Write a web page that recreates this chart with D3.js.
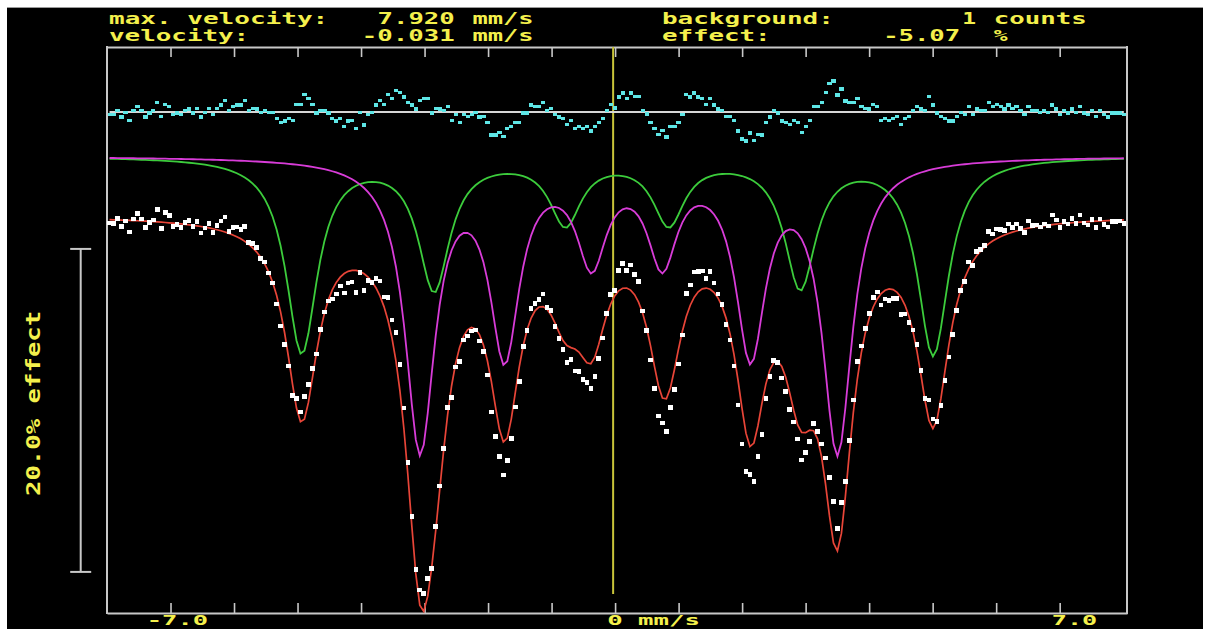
<!DOCTYPE html>
<html><head><meta charset="utf-8">
<script src="https://cdn.jsdelivr.net/npm/d3@7"></script>
<style>
html,body{margin:0;background:#fff;overflow:hidden}
text{font-family:'DejaVu Sans Mono',monospace;font-weight:bold}
</style>
</head><body><svg id="chart" width="1213" height="629"></svg>
<script>
// Measured relative transmission per channel (%)
const transmission = [
  99.50,99.49,99.80,99.28,99.62,98.95,99.76,100.08,99.74,99.21,99.54,99.70,100.34,99.17,100.14,99.96,
  99.28,99.41,99.23,99.53,99.66,99.30,99.60,98.88,99.19,99.47,98.93,99.36,99.62,99.88,98.97,99.21,
  99.25,99.12,99.30,98.30,98.24,97.97,97.32,97.09,96.42,95.78,94.48,93.12,92.00,90.64,88.81,88.65,
  87.81,88.78,89.50,90.51,91.39,92.92,94.00,94.67,94.81,95.10,95.60,95.17,95.79,95.86,95.19,96.44,
  95.31,95.93,95.81,96.08,95.91,94.93,94.91,93.49,92.73,90.73,88.04,84.69,81.33,78.04,76.78,76.55,
  77.50,78.12,80.72,83.23,85.55,88.08,88.71,90.58,90.92,92.26,92.50,92.82,92.89,92.20,91.56,90.10,
  87.80,86.28,85.04,83.91,84.81,86.15,88.10,89.70,91.84,92.85,94.22,94.52,94.75,95.10,94.27,94.08,
  93.09,92.34,91.68,90.87,91.07,90.33,90.30,89.80,89.64,89.24,89.99,91.12,92.39,93.91,95.09,95.32,
  96.56,97.01,96.58,96.90,96.33,95.87,94.05,92.86,91.03,89.25,87.55,87.12,86.58,88.08,89.20,90.77,
  92.56,95.14,95.67,96.46,96.50,96.53,96.08,96.50,95.80,95.12,94.45,93.23,92.25,90.64,88.23,85.83,
  84.12,83.95,83.51,85.06,86.42,88.65,90.01,90.98,90.88,89.90,89.07,87.94,87.19,86.12,84.83,85.31,
  85.96,87.08,86.58,85.81,84.96,83.73,82.26,80.59,82.18,83.50,86.04,88.54,90.94,91.90,92.97,93.89,
  94.91,95.24,94.42,94.79,94.70,94.83,94.82,93.85,93.86,93.33,92.89,92.00,90.36,88.65,88.54,87.37,
  87.22,88.22,89.74,91.20,92.61,94.09,95.33,95.88,97.10,96.89,97.74,97.88,98.12,98.98,98.82,99.13,
  99.09,99.03,99.45,99.21,99.45,99.18,98.91,99.62,99.34,99.38,99.25,99.45,99.32,100.00,99.70,99.24,
  99.59,99.44,99.79,99.48,100.00,99.51,99.37,99.71,99.23,99.74,99.42,99.26,99.60,99.61,99.62,99.47
];
// Velocity of the first and last channel (mm/s)
const channelVelocityRange = [-7.96, 8.01];

// Sextet 1 (green): line positions (mm/s), depths (%), line width (mm/s)
const sextet1Positions = [-4.934, -2.850, -0.783, 0.844, 2.915, 5.008];
const sextet1Depths    = [12.07, 8.09, 4.01, 4.01, 7.97, 12.20];
const sextet1Width     = 0.598;
// Sextet 2 (magenta)
const sextet2Positions = [-3.071, -1.739, -0.370, 0.743, 2.132, 3.501];
const sextet2Depths    = [17.89, 11.76, 6.00, 6.00, 11.76, 17.95];
const sextet2Width     = 0.567;

// Axis ticks and labels (mm/s)
const axisTicks = [-7, -6, -5, -4, -3, -2, -1, 0, 1, 2, 3, 4, 5, 6, 7];
const axisLabelValues = [-7, 0, 7];
const axisLabelTexts  = ["-7.0", "0 mm/s", "7.0"];

// Header read-out
const headerLeft  = [["max. velocity:", "7.920", "mm/s"], ["velocity:", "-0.031", "mm/s"]];
const headerRight = [["background:", "1", "counts"], ["effect:", "-5.07", "%"]];
const cursorVelocity = -0.031;
const scaleBarPercent = 20.0;

// ---- layout ----
const W = 1213, H = 629;
const frame = {left: 107, right: 1127, top: 47, bottom: 613};
const pxPerPercent = 16.15;
const baselineY = 215;
const componentOffset = 3.65;   // subspectra drawn shifted up (%)
const residualZero = 106.38;    // residual trace zero level (%)
const residualGain = 0.75;
const scaleBarTop = 97.9;

const svg = d3.select('#chart');
svg.append('rect').attr('x', 7).attr('y', 7).attr('width', 1196).attr('height', H - 7).attr('fill', '#000');
svg.append('line').attr('x1', 7).attr('x2', 1203).attr('y1', 7.5).attr('y2', 7.5).attr('stroke', '#9a9a9a');

const x = d3.scaleLinear().domain([-8.0, 8.06]).range([frame.left, frame.right]);
const y = d3.scaleLinear()
  .domain([100 - (frame.bottom - baselineY) / pxPerPercent, 100 + (baselineY - frame.top) / pxPerPercent])
  .range([frame.bottom, frame.top]);

const lorentzSum = (v, pos, depth, width) => {
  const h2 = (width / 2) ** 2;
  return d3.sum(pos, (c, i) => depth[i] * h2 / ((v - c) ** 2 + h2));
};

const n = transmission.length;
const [v0, v1] = channelVelocityRange;
const channels = transmission.map((t, i) => {
  const v = v0 + i * (v1 - v0) / (n - 1);
  const a = lorentzSum(v, sextet1Positions, sextet1Depths, sextet1Width);
  const b = lorentzSum(v, sextet2Positions, sextet2Depths, sextet2Width);
  const fit = 100 - a - b;
  return {v, t, fit, s1: 100 + componentOffset - a, s2: 100 + componentOffset - b,
          res: residualZero + residualGain * (t - fit)};
});

// frame with axes
const grey = '#c8c8c8';
const bottomAxis = d3.axisBottom(x).tickValues(axisTicks).tickSizeInner(-10).tickSizeOuter(0).tickFormat('');
const topAxis = d3.axisTop(x).tickValues(axisTicks).tickSizeInner(-10).tickSizeOuter(0).tickFormat('');
const gB = svg.append('g').attr('transform', `translate(0,${frame.bottom})`).call(bottomAxis);
const gT = svg.append('g').attr('transform', `translate(0,${frame.top})`).call(topAxis);
[gB, gT].forEach(g => {
  g.selectAll('path.domain').attr('stroke', grey).attr('stroke-width', 2);
  g.selectAll('.tick line').attr('stroke', grey).attr('stroke-width', 1.6);
});
svg.append('line').attr('x1', frame.left).attr('x2', frame.left).attr('y1', frame.top - 1).attr('y2', frame.bottom + 1)
  .attr('stroke', grey).attr('stroke-width', 2);
svg.append('line').attr('x1', frame.right).attr('x2', frame.right).attr('y1', frame.top - 1).attr('y2', frame.bottom + 1)
  .attr('stroke', grey).attr('stroke-width', 2);

// cursor line
svg.append('line').attr('x1', x(cursorVelocity)).attr('x2', x(cursorVelocity))
  .attr('y1', frame.top).attr('y2', 594).attr('stroke', '#c8c43a').attr('stroke-width', 2);

// residual zero line
svg.append('line').attr('x1', x(v0)).attr('x2', x(v1)).attr('y1', y(residualZero)).attr('y2', y(residualZero))
  .attr('stroke', '#d6d6d6').attr('stroke-width', 2);

// residual points
svg.append('g').selectAll('rect').data(channels).join('rect')
  .attr('x', d => x(d.v) - 2).attr('y', d => y(d.res) - 1.8).attr('width', 4.2).attr('height', 3.6)
  .attr('fill', '#5ee6e6').attr('shape-rendering', 'crispEdges');

// subspectra and total fit
const lineOf = key => d3.line().x(d => x(d.v)).y(d => y(d[key]));
svg.append('path').datum(channels).attr('d', lineOf('s1')).attr('fill', 'none').attr('stroke', '#3ccc3c').attr('stroke-width', 1.8);
svg.append('path').datum(channels).attr('d', lineOf('s2')).attr('fill', 'none').attr('stroke', '#d83cd8').attr('stroke-width', 1.8);
svg.append('path').datum(channels).attr('d', lineOf('fit')).attr('fill', 'none').attr('stroke', '#e84538').attr('stroke-width', 1.7);

// measured points
svg.append('g').selectAll('rect').data(channels).join('rect')
  .attr('x', d => x(d.v) - 2.3).attr('y', d => y(d.t) - 2.3).attr('width', 4.6).attr('height', 4.6)
  .attr('fill', '#ffffff').attr('shape-rendering', 'crispEdges');

// text helpers: stretched monospace cells
const yellow = '#f4f04c';
const cell = 15.8;
const cellText = (px, py, str, size = 16) => svg.append('text')
  .attr('x', px).attr('y', py).attr('fill', yellow).attr('font-size', size)
  .attr('textLength', str.length * cell - 2).attr('lengthAdjust', 'spacingAndGlyphs').text(str);

// header
const textLeft = 109;
const headerCols = [[0, 17, 23], [0, 16, 23]];
const headerRightCols = [[35, 54, 56], [35, 49, 56]];
const headerRows = [24, 41];
headerLeft.forEach((row, r) => row.forEach((s, k) => cellText(textLeft + headerCols[r][k] * cell, headerRows[r], s)));
headerRight.forEach((row, r) => row.forEach((s, k) => cellText(textLeft + headerRightCols[r][k] * cell, headerRows[r], s)));

// axis labels: first digit centred on its tick
axisLabelValues.forEach((v, i) => {
  const s = axisLabelTexts[i];
  const lead = s.startsWith('-') ? cell : 0;
  cellText(x(v) - cell / 2 - lead, 625, s, 14);
});

// effect scale bar
const barX = 80.7, capHalf = 10.5;
const barY0 = y(scaleBarTop), barY1 = y(scaleBarTop - scaleBarPercent);
const bar = svg.append('g').attr('stroke', grey).attr('stroke-width', 2);
bar.append('line').attr('x1', barX).attr('x2', barX).attr('y1', barY0).attr('y2', barY1);
bar.append('line').attr('x1', barX - capHalf).attr('x2', barX + capHalf).attr('y1', barY0).attr('y2', barY0);
bar.append('line').attr('x1', barX - capHalf).attr('x2', barX + capHalf).attr('y1', barY1).attr('y2', barY1);
const barLabel = `${scaleBarPercent.toFixed(1)}% effect`;
svg.append('text').attr('transform', `translate(39.5,${(barY0 + barY1) / 2 - 7}) rotate(-90)`)
  .attr('text-anchor', 'middle').attr('fill', yellow).attr('font-size', 20)
  .attr('textLength', barLabel.length * 15.6 - 2).attr('lengthAdjust', 'spacingAndGlyphs').text(barLabel);
</script></body></html>
